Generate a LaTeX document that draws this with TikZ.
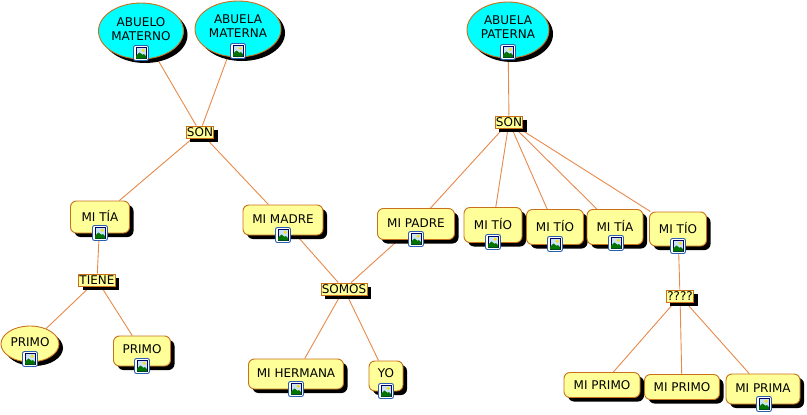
\documentclass[tikz,border=0pt]{standalone}
\usepackage{fontspec}
\setmainfont{DejaVu Sans}
\usetikzlibrary{shapes.geometric}
\usetikzlibrary{shadows}
\usetikzlibrary{backgrounds}
\definecolor{lineorange}{HTML}{E6894A}
\definecolor{edgebrown}{HTML}{C8701A}
\definecolor{paleyellow}{HTML}{FFFF99}
\definecolor{aqua}{HTML}{00FFFF}
\definecolor{iconblue}{HTML}{2A5FB0}
\definecolor{iconsky}{HTML}{C8E4F4}
\tikzset{
	blackshadow/.style={drop shadow={fill=black, opacity=1, shadow xshift=4pt, shadow yshift=-4pt}},
	concept/.style={draw=edgebrown, line width=0.9pt, fill=paleyellow, rounded corners=6pt, blackshadow, font=\fontsize{12}{14}\selectfont, align=center, inner sep=0pt},
	oval/.style={concept, rounded corners=0pt, ellipse, fill=aqua},
	phrase/.style={draw=edgebrown, line width=0.9pt, fill=paleyellow, font=\fontsize{12}{13}\selectfont, inner sep=0.8pt, minimum height=12pt, blackshadow},
	link/.style={draw=lineorange, line width=0.9pt},
	imgicon/.pic={
		\draw[iconblue, fill=white, rounded corners=2pt, line width=0.9pt] (-7.5,-7.5) rectangle (7.5,7.5);
		\draw[black!60!blue, fill=iconsky, line width=0.7pt] (-5,-5.5) rectangle (5,5.5);
		\fill[yellow!80!orange] (2.2,-2.8) circle (1.6);
		\fill[green!45!black] (-5,5.5) -- (-5,2.8) -- (-1.5,-0.5) -- (1.5,1.8) -- (3,1) -- (5,3.2) -- (5,5.5) -- cycle;
	},
}
\begin{document}
\begin{tikzpicture}[x=1pt, y=-1pt]
	\useasboundingbox (0,0) rectangle (807,415);
	% grandparents
	\node[oval, minimum width=85pt, minimum height=56pt, text depth=4pt] (abuelo) at (141,31) {ABUELO\\MATERNO};
	\node[oval, minimum width=86pt, minimum height=56pt, text depth=5pt] (abuela) at (238,29) {ABUELA\\MATERNA};
	\node[oval, minimum width=82pt, minimum height=56pt, text depth=5pt] (paterna) at (508,30) {ABUELA\\PATERNA};
	\node[phrase] (son1) at (200,132) {SON};
	\node[phrase] (son2) at (509,122) {SON};
	% parents, uncles
	\node[concept, minimum width=59pt, minimum height=32pt, text depth=1.5pt] (tia1) at (100,217) {MI TÍA};
	\node[concept, minimum width=80pt, minimum height=30pt, text depth=1.5pt] (madre) at (283,220) {MI MADRE};
	\node[concept, minimum width=77pt, minimum height=31pt, text depth=1.5pt] (padre) at (416,224) {MI PADRE};
	\node[concept, minimum width=58pt, minimum height=35pt, text depth=3pt] (tio1) at (493,225) {MI TÍO};
	\node[concept, minimum width=57pt, minimum height=35pt, text depth=3pt] (tio2) at (555,227) {MI TÍO};
	\node[concept, minimum width=56pt, minimum height=35pt, text depth=3pt] (tia2) at (615,227) {MI TÍA};
	\node[concept, minimum width=57pt, minimum height=34pt, text depth=3pt] (tio3) at (678,229) {MI TÍO};
	\node[phrase] (tiene) at (97,280) {TIENE};
	\node[phrase] (somos) at (344,289) {SOMOS};
	\node[phrase] (unknown) at (680,296) {????};
	% bottom row
	\node[oval, fill=paleyellow, minimum width=58pt, minimum height=36pt, text depth=3pt] (primoa) at (30,344) {PRIMO};
	\node[concept, minimum width=57pt, minimum height=30pt, text depth=3pt] (primob) at (142,351) {PRIMO};
	\node[concept, minimum width=95pt, minimum height=30pt, text depth=1.5pt] (hermana) at (296,374) {MI HERMANA};
	\node[concept, minimum width=34pt, minimum height=30pt, text depth=5pt] (yo) at (386,376) {YO};
	\node[concept, minimum width=76pt, minimum height=25pt] (primoc) at (602,385) {MI PRIMO};
	\node[concept, minimum width=75pt, minimum height=25pt] (primod) at (682,387) {MI PRIMO};
	\node[concept, minimum width=74pt, minimum height=30pt, text depth=1.5pt] (prima) at (763,389) {MI PRIMA};
	% connectors
	\begin{scope}[on background layer]
		\draw[link] (abuelo)--(son1);
		\draw[link] (abuela)--(son1);
		\draw[link] (son1)--(tia1);
		\draw[link] (son1)--(madre);
		\draw[link] (tia1)--(tiene);
		\draw[link] (tiene)--(primoa);
		\draw[link] (tiene)--(primob);
		\draw[link] (madre)--(somos);
		\draw[link] (padre)--(somos);
		\draw[link] (somos)--(hermana);
		\draw[link] (somos)--(yo);
		\draw[link] (paterna)--(son2);
		\draw[link] (son2)--(padre);
		\draw[link] (son2)--(tio1);
		\draw[link] (son2)--(tio2);
		\draw[link] (son2)--(tia2);
		\draw[link] (son2)--(tio3);
		\draw[link] (tio3)--(unknown);
		\draw[link] (unknown)--(primoc);
		\draw[link] (unknown)--(primod);
		\draw[link] (unknown)--(prima);
	\end{scope}
	% image icons
	\pic at (141,53) {imgicon};
	\pic at (238,51) {imgicon};
	\pic at (508,52) {imgicon};
	\pic at (100,233) {imgicon};
	\pic at (283,235) {imgicon};
	\pic at (416,239) {imgicon};
	\pic at (493,242) {imgicon};
	\pic at (555,244) {imgicon};
	\pic at (616,243) {imgicon};
	\pic at (678,246) {imgicon};
	\pic at (30,359) {imgicon};
	\pic at (142,366) {imgicon};
	\pic at (296,389) {imgicon};
	\pic at (386,391) {imgicon};
	\pic at (764,404) {imgicon};
\end{tikzpicture}
\end{document}
